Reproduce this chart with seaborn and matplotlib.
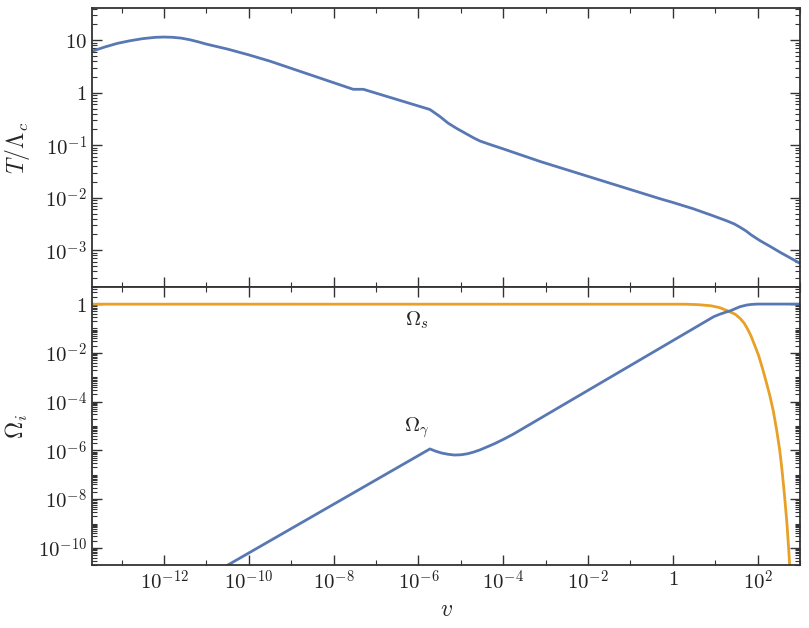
import numpy as np
import pandas as pd
import seaborn as sns
import matplotlib
matplotlib.use("Agg")
import matplotlib.pyplot as plt
from matplotlib import ticker

# values, stored as log10
log_v_T = [-13.70, -13.4, -13.1, -12.8, -12.5, -12.2, -12.0, -11.8, -11.6, -11.4,
           -11.2, -11.0, -10.5, -10.0, -9.5, -7.54, -7.30, -5.73, -5.5, -5.3,
           -5.10, -4.9, -4.7, -4.55, -4.3, -4.0, -3.13, -0.30, 0.0, 0.48,
           0.9, 1.27, 1.45, 1.58, 1.72, 1.85, 2.06, 2.3, 2.53, 3.0]
log_T = [0.79, 0.87, 0.94, 0.99, 1.03, 1.055, 1.06, 1.055, 1.04, 1.01,
         0.97, 0.925, 0.83, 0.72, 0.60, 0.065, 0.065, -0.32, -0.45, -0.58,
         -0.68, -0.77, -0.86, -0.92, -0.99, -1.07, -1.31, -2.02, -2.09, -2.21,
         -2.33, -2.44, -2.50, -2.56, -2.63, -2.71, -2.82, -2.93, -3.04, -3.25]

log_v_g = [-13.70, -5.73, -5.6, -5.45, -5.3, -5.15, -5.0, -4.85, -4.7, -4.55,
           -4.4, -4.2, -4.0, -3.76, 0.96, 1.1, 1.25, 1.35, 1.47, 1.58,
           1.67, 1.74, 1.85, 1.98, 3.0]
log_Omega_g = [-13.90, -5.94, -6.03, -6.11, -6.16, -6.19, -6.18, -6.14, -6.07, -5.98,
               -5.87, -5.72, -5.55, -5.33, -0.52, -0.42, -0.33, -0.28, -0.19, -0.11,
               -0.07, -0.04, -0.015, 0.0, 0.0]

log_v_s = [-13.70, 0.3, 0.6, 0.9, 1.11, 1.35, 1.47, 1.58, 1.68, 1.76,
           1.84, 1.92, 2.02, 2.12, 2.21, 2.29, 2.37, 2.45, 2.52, 2.57,
           2.63, 2.69, 2.74, 2.78]
log_Omega_s = [-0.004, -0.006, -0.025, -0.07, -0.15, -0.32, -0.42, -0.58, -0.78, -1.02,
               -1.30, -1.65, -2.10, -2.68, -3.25, -3.78, -4.40, -5.20, -6.00, -6.75,
               -7.80, -9.00, -10.30, -11.50]

x_ticks = [-12, -10, -8, -6, -4, -2, 0, 2]
top_ticks = [1, 0, -1, -2, -3]
bot_ticks = [0, -2, -4, -6, -8, -10]

blue = "#5878b4"
orange = "#e8a026"

sns.set_theme(style="ticks")
plt.rcParams["mathtext.fontset"] = "cm"
plt.rcParams["font.family"] = ["DejaVu Serif"]
plt.rcParams["axes.edgecolor"] = "#333333"
plt.rcParams["axes.linewidth"] = 1.3

df_T = pd.DataFrame({"v": 10.0 ** np.array(log_v_T), "T": 10.0 ** np.array(log_T)})
df_g = pd.DataFrame({"v": 10.0 ** np.array(log_v_g), "O": 10.0 ** np.array(log_Omega_g)})
df_s = pd.DataFrame({"v": 10.0 ** np.array(log_v_s), "O": 10.0 ** np.array(log_Omega_s)})


def lab(e):
    if e == 0:
        return "$1$"
    if e == 1:
        return "$10$"
    return "$10^{%d}$" % e


fig = plt.figure(figsize=(8.09, 6.28), dpi=100)
ax1 = fig.add_axes([0.1137, 0.543, 0.8753, 0.444])
ax2 = fig.add_axes([0.1137, 0.1003, 0.8753, 0.4427], sharex=ax1)

for ax in (ax1, ax2):
    ax.set_xscale("log")
    ax.set_yscale("log")

sns.lineplot(data=df_T, x="v", y="T", ax=ax1, color=blue, lw=2.0, sort=False)
sns.lineplot(data=df_s, x="v", y="O", ax=ax2, color=orange, lw=2.0, sort=False)
sns.lineplot(data=df_g, x="v", y="O", ax=ax2, color=blue, lw=2.0, sort=False)

ax1.set_xlim(10 ** -13.7, 10 ** 3.0)
ax1.set_ylim(10 ** -3.7, 10 ** 1.61)
ax2.set_ylim(10 ** -10.7, 10 ** 0.7)

for ax in (ax1, ax2):
    ax.xaxis.set_major_locator(ticker.FixedLocator([10.0 ** e for e in x_ticks]))
    ax.xaxis.set_minor_locator(ticker.FixedLocator([10.0 ** (e + 1) for e in x_ticks] + [1e-13]))
    ax.xaxis.set_major_formatter(ticker.FixedFormatter([lab(e) for e in x_ticks]))
    ax.xaxis.set_minor_formatter(ticker.NullFormatter())
    ax.tick_params(which="both", direction="in", top=True, right=True,
                   colors="#333333", labelcolor="#222222", labelsize=15)
    ax.tick_params(which="major", length=7, width=1.0)
    ax.tick_params(which="minor", length=3.5, width=0.8)
    ax.set_xlabel("")
    ax.set_ylabel("")

ax1.tick_params(axis="x", labelbottom=False)
ax1.yaxis.set_major_locator(ticker.FixedLocator([10.0 ** e for e in top_ticks]))
ax1.yaxis.set_major_formatter(ticker.FixedFormatter([lab(e) for e in top_ticks]))
ax1.yaxis.set_minor_locator(ticker.LogLocator(base=10, subs=np.arange(2, 10), numticks=100))
ax1.yaxis.set_minor_formatter(ticker.NullFormatter())

ax2.yaxis.set_major_locator(ticker.FixedLocator([10.0 ** e for e in bot_ticks]))
ax2.yaxis.set_major_formatter(ticker.FixedFormatter([lab(e) for e in bot_ticks]))
ax2.yaxis.set_minor_locator(ticker.LogLocator(base=10, subs=np.arange(1, 10), numticks=100))
ax2.yaxis.set_minor_formatter(ticker.NullFormatter())

ax1.set_ylabel(r"$T/\Lambda_c$", fontsize=17, labelpad=10)
ax2.set_ylabel(r"$\Omega_i$", fontsize=17, labelpad=6)
ax2.set_xlabel(r"$v$", fontsize=17, labelpad=3)

ax2.text(10 ** -6.04, 10 ** -0.66, r"$\Omega_s$", fontsize=15, ha="center", va="center", color="#222222")
ax2.text(10 ** -6.04, 10 ** -5.08, r"$\Omega_\gamma$", fontsize=15, ha="center", va="center", color="#222222")

fig.savefig("out.png", dpi=100)
